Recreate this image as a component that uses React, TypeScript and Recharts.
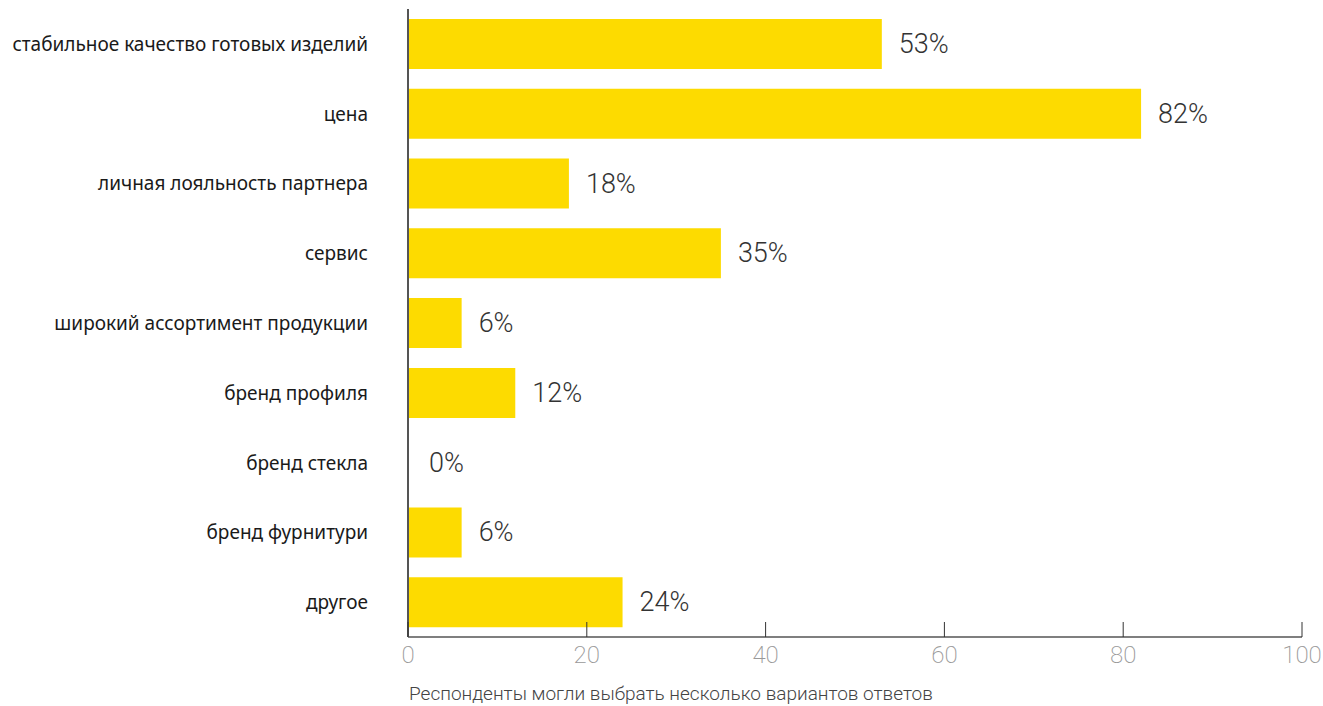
import React from 'react';
import { BarChart, Bar, XAxis, YAxis, LabelList, Cell } from 'recharts';

const CATEGORIES = [
  'стабильное качество готовых изделий',
  'цена',
  'личная лояльность партнера',
  'сервис',
  'широкий ассортимент продукции',
  'бренд профиля',
  'бренд стекла',
  'бренд фурнитури',
  'другое',
];
const VALUES = [53, 82, 18, 35, 6, 12, 0, 6, 24];
const X_TICKS = [0, 20, 40, 60, 80, 100];
const NOTE = 'Респонденты могли выбрать несколько вариантов ответов';

const data = CATEGORIES.map((name, i) => ({ name, value: VALUES[i] }));

const XTick = (props: any) => {
  const { x, y, payload } = props;
  return (
    <g>
      <line x1={x} x2={x} y1={y - 15} y2={y} stroke="#333" strokeWidth={1} />
      <text
        x={x}
        y={y + 18}
        textAnchor="middle"
        dominantBaseline="central"
        fill="#999"
        fontFamily="Roboto"
        fontWeight={200}
        fontSize={24}
      >
        {payload.value}
      </text>
    </g>
  );
};

const YTick = (props: any) => {
  const { x, y, payload } = props;
  return (
    <text
      x={x - 38}
      y={y}
      textAnchor="end"
      dominantBaseline="central"
      fill="#1a1a1a"
      fontFamily="Noto Sans"
      fontSize={19}
    >
      {payload.value}
    </text>
  );
};

const ValueLabel = (props: any) => {
  const { x, y, width, height, value } = props;
  return (
    <text
      x={x + width + 17}
      y={y + height / 2}
      dominantBaseline="central"
      fill="#333"
      fontFamily="Roboto"
      fontWeight={300}
      fontSize={27}
    >
      {`${value}%`}
    </text>
  );
};

const App = () => {
  return (
    <div style={{ position: 'absolute', left: 0, top: 0, width: 1323, height: 706, background: '#fff' }}>
      <BarChart
        width={1323}
        height={706}
        data={data}
        layout="vertical"
        margin={{ top: 9, right: 21, left: 0, bottom: 39 }}
        barSize={50}
      >
        <XAxis
          type="number"
          domain={[0, 100]}
          ticks={X_TICKS}
          tick={<XTick />}
          tickLine={false}
          tickSize={0}
          tickMargin={0}
          axisLine={{ stroke: '#555', strokeWidth: 1.5 }}
          height={30}
          interval={0}
        />
        <YAxis
          type="category"
          dataKey="name"
          width={408}
          tick={<YTick />}
          tickLine={false}
          tickSize={0}
          axisLine={{ stroke: '#555', strokeWidth: 2 }}
          interval={0}
        />
        <Bar
          dataKey="value"
          fill="#FDDB00"
          isAnimationActive={false}
          minPointSize={(v: any) => (v === 0 ? 4 : 0)}
        >
          {data.map((d, i) => (
            <Cell key={i} fill={d.value === 0 ? 'transparent' : '#FDDB00'} />
          ))}
          <LabelList dataKey="value" content={<ValueLabel />} />
        </Bar>
      </BarChart>
      <div
        style={{
          position: 'absolute',
          left: 409,
          top: 682,
          fontFamily: 'Roboto',
          fontWeight: 300,
          fontSize: 19,
          color: '#444',
          whiteSpace: 'nowrap',
        }}
      >
        {NOTE}
      </div>
    </div>
  );
};

export default App;
